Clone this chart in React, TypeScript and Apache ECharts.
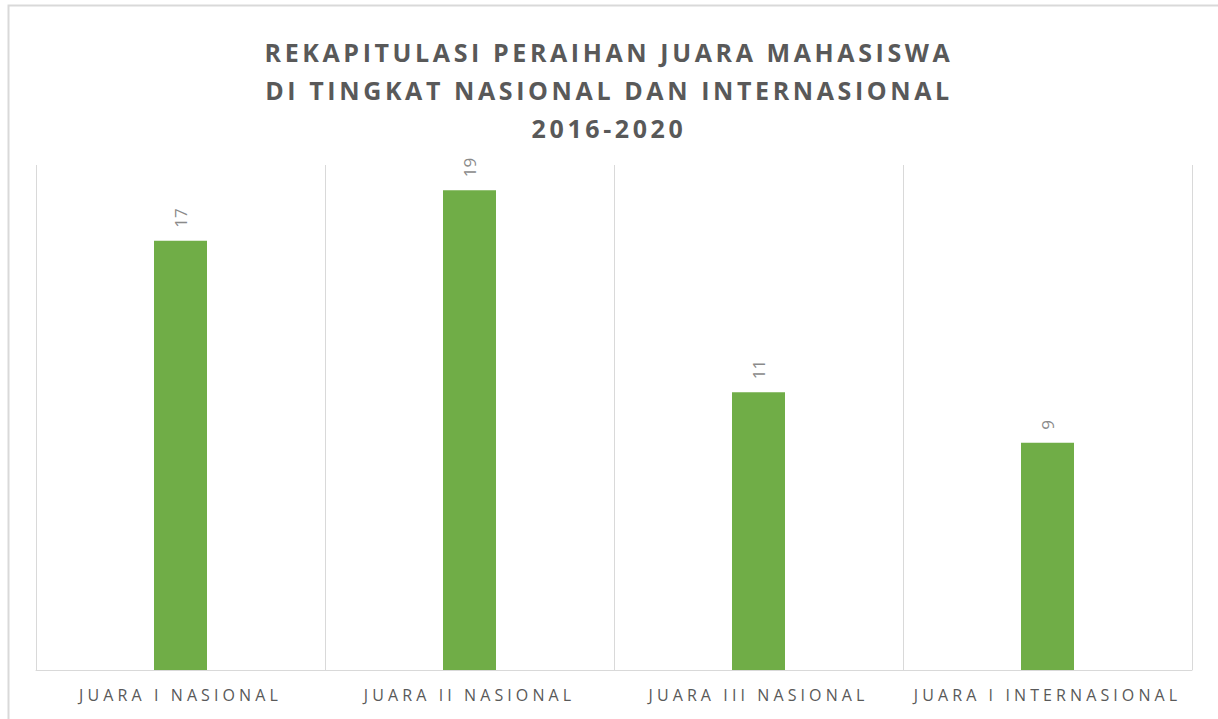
import React, { useEffect, useRef } from "react";
import * as echarts from "echarts";

const categories = ["JUARA I NASIONAL", "JUARA II NASIONAL", "JUARA III NASIONAL", "JUARA I INTERNASIONAL"];
const values = [17, 19, 11, 9];
const titleLines = ["REKAPITULASI PERAIHAN JUARA MAHASISWA", "DI TINGKAT NASIONAL DAN INTERNASIONAL", "2016-2020"];

export default function App() {
  const ref = useRef<HTMLDivElement>(null);
  useEffect(() => {
    if (!ref.current) return;
    const chart = echarts.init(ref.current, null, { renderer: "svg" });
    chart.setOption({
      animation: false,
      backgroundColor: "#ffffff",
      title: {
        text: titleLines.join("\n"),
        left: "center",
        top: 28,
        textStyle: {
          fontFamily: "Open Sans",
          fontWeight: "bold",
          fontSize: 25,
          lineHeight: 38,
          color: "#595959",
        },
      },
      graphic: [
        {
          type: "rect",
          shape: { x: 8.5, y: 5.5, width: 1230, height: 730 },
          style: { fill: "none", stroke: "#d9d9d9", lineWidth: 2 },
          silent: true,
          z: -1,
        },
      ],
      grid: { left: 36, right: 26, top: 165, bottom: 49 },
      xAxis: {
        type: "category",
        data: categories,
        axisLine: { show: true, lineStyle: { color: "#d9d9d9", width: 1 } },
        axisTick: { show: false },
        splitLine: { show: true, lineStyle: { color: "#d9d9d9", width: 1 } },
        axisLabel: {
          fontFamily: "Open Sans",
          fontSize: 16,
          color: "#595959",
          margin: 17,
          interval: 0,
        },
      },
      yAxis: {
        type: "value",
        min: 0,
        max: 20,
        show: false,
        splitLine: { show: false },
      },
      series: [
        {
          type: "bar",
          data: values,
          barWidth: 53,
          itemStyle: { color: "#70ad47" },
          label: {
            show: true,
            position: "top",
            rotate: 90,
            align: "left",
            verticalAlign: "middle",
            distance: 13,
            fontFamily: "Open Sans",
            fontSize: 17,
            color: "#8a8a8a",
          },
        },
      ],
    });
    return () => chart.dispose();
  }, []);
  return (
    <>
      <style>{`
        #chartbox svg text[style*="16px"] { letter-spacing: 4.1px; }
        #chartbox svg text[style*="bold"] { letter-spacing: 3.6px; }
      `}</style>
      <div
        id="chartbox"
        ref={ref}
        style={{ position: "fixed", left: 0, top: 0, width: 1218, height: 719 }}
      />
    </>
  );
}
